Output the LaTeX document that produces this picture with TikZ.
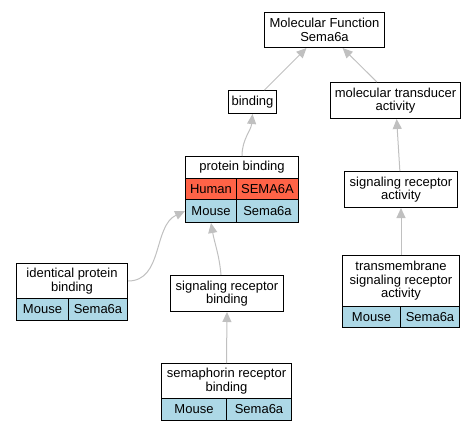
\documentclass[tikz,border=0pt]{standalone}
\usepackage{fontspec}
\setmainfont{Liberation Sans}
\usetikzlibrary{arrows.meta}
\definecolor{edgegray}{HTML}{C0C0C0}
\definecolor{redcell}{HTML}{FF6347}
\definecolor{bluecell}{HTML}{ADD8E6}
\begin{document}
\begin{tikzpicture}[x=1pt,y=-1pt,
  cell/.style={draw, line width=1pt, rectangle, inner sep=0pt, anchor=north west, align=center,
    font=\fontsize{13}{13.5}\selectfont, fill=white},
  redc/.style={cell, fill=redcell},
  bluec/.style={cell, fill=bluecell},
  edge/.style={draw=edgegray, line width=1pt, -{Triangle[length=10pt,width=9pt]}}]
\useasboundingbox (0,0) rectangle (476,432);
% Molecular Function
\node[cell, minimum width=120pt, minimum height=35pt] (mf) at (264,12) {Molecular Function\\Sema6a};
% binding
\node[cell, minimum width=48pt, minimum height=23pt] (bind) at (228,90) {binding};
% molecular transducer activity
\node[cell, minimum width=130pt, minimum height=36pt] (mta) at (330,82) {molecular transducer\\activity};
% protein binding table
\node[cell, minimum width=113pt, minimum height=22pt] (pbt) at (185,156) {protein binding};
\node[redc, minimum width=51pt, minimum height=21pt] (pbh) at (185,178) {Human};
\node[redc, minimum width=62pt, minimum height=21pt] (pbhs) at (236,178) {SEMA6A};
\node[bluec, minimum width=51pt, minimum height=23pt] (pbm) at (185,199) {Mouse};
\node[bluec, minimum width=62pt, minimum height=23pt] (pbms) at (236,199) {Sema6a};
% signaling receptor activity
\node[cell, minimum width=113pt, minimum height=36pt] (sra) at (344,171) {signaling receptor\\activity};
% identical protein binding
\node[cell, minimum width=111pt, minimum height=35pt] (ipt) at (16,263) {identical protein\\binding};
\node[bluec, minimum width=52pt, minimum height=22pt] (ipm) at (16,298) {Mouse};
\node[bluec, minimum width=59pt, minimum height=22pt] (ips) at (68,298) {Sema6a};
% signaling receptor binding
\node[cell, minimum width=113pt, minimum height=36pt] (srb) at (170,275) {signaling receptor\\binding};
% transmembrane signaling receptor activity
\node[cell, minimum width=117pt, minimum height=51pt] (tmt) at (342,255) {transmembrane\\signaling receptor\\activity};
\node[bluec, minimum width=58pt, minimum height=21pt] (tmm) at (342,306) {Mouse};
\node[bluec, minimum width=59pt, minimum height=21pt] (tms) at (400,306) {Sema6a};
% semaphorin receptor binding
\node[cell, minimum width=130pt, minimum height=35pt] (semt) at (161,363) {semaphorin receptor\\binding};
\node[bluec, minimum width=65pt, minimum height=22pt] (semm) at (161,398) {Mouse};
\node[bluec, minimum width=65pt, minimum height=22pt] (sems) at (226,398) {Sema6a};
% edges
\draw[edge] (bind) -- (mf);
\draw[edge] (mta) -- (mf);
\draw[edge] (pbt.north) to[out=90,in=-95] (bind.south);
\draw[edge] (sra) -- (mta);
\draw[edge] (tmt.north) -- (sra.south);
\draw[edge] (ipt.east) to[out=0,in=205] (pbm.west);
\draw[edge] ([xshift=-6pt]srb.north) to[out=95,in=-80] (pbm.south);
\draw[edge] (semt.north) -- (srb.south);
\end{tikzpicture}
\end{document}
